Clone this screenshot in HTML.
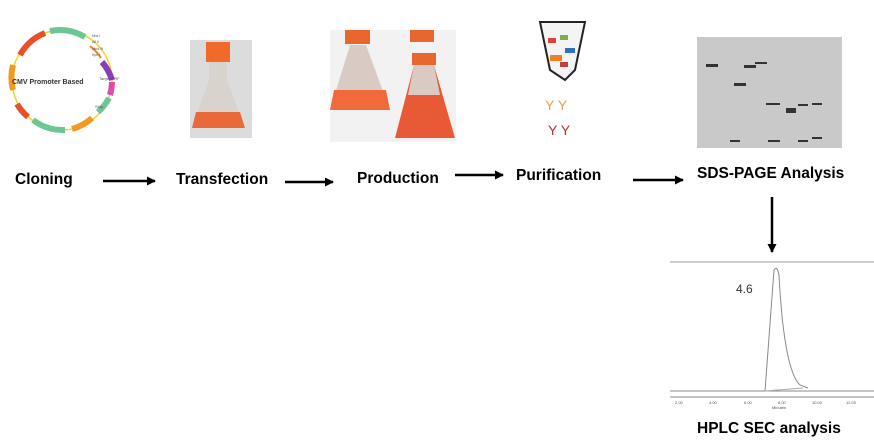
<!DOCTYPE html>
<html><head><meta charset="utf-8"><style>
body{margin:0;width:874px;height:447px;background:#fff;overflow:hidden;position:relative;font-family:"Liberation Sans",sans-serif}
.l{position:absolute;font-weight:bold;font-size:15.5px;color:#000;white-space:nowrap}
svg{position:absolute;left:0;top:0}
</style></head><body>
<svg width="874" height="447">
<defs><marker id="a" markerUnits="userSpaceOnUse" markerWidth="10" markerHeight="10" refX="8" refY="4.5" orient="auto"><path d="M0,0 L9,4.5 L0,9z" fill="#000"/></marker></defs>
<!-- plasmid -->
<circle cx="62" cy="80" r="50" fill="none" stroke="#f2d32a" stroke-width="1.5"/>
<path d="M20,55 A50,50 0 0 1 45,33" stroke="#e8502a" stroke-width="6" fill="none"/>
<path d="M50,31 A50,50 0 0 1 85,37" stroke="#6cc795" stroke-width="6" fill="none"/>
<path d="M90,46 A50,50 0 0 1 101,58" stroke="#f08020" stroke-width="2" fill="none"/>
<path d="M102,62 A50,50 0 0 1 112,80" stroke="#8a3db5" stroke-width="6" fill="none"/>
<path d="M112,82 A50,50 0 0 1 110,95" stroke="#e04aa8" stroke-width="6" fill="none"/>
<path d="M109,98 A50,50 0 0 1 98,112" stroke="#6cc795" stroke-width="6" fill="none"/>
<path d="M92,118 A50,50 0 0 1 72,129" stroke="#f29a20" stroke-width="6" fill="none"/>
<path d="M65,130 A50,50 0 0 1 33,120" stroke="#6cc795" stroke-width="6" fill="none"/>
<path d="M28,117 A50,50 0 0 1 17,104" stroke="#e8502a" stroke-width="6" fill="none"/>
<path d="M13,90 A50,50 0 0 1 13,65" stroke="#f29a20" stroke-width="6" fill="none"/>
<text x="12" y="84" font-size="7" font-weight="bold" fill="#333">CMV Promoter Based</text>
<text x="92" y="37" font-size="3.5" fill="#555">Nhe I</text><text x="92" y="43" font-size="3.5" fill="#555">Afl II</text><text x="92" y="50" font-size="3.5" fill="#555">Hind III</text><text x="92" y="56" font-size="3.5" fill="#555">Kpn I</text>
<text x="99" y="80" font-size="4" fill="#555">Target ORF</text><text x="95" y="108" font-size="4" fill="#555">Stop</text>
<!-- flask 1 -->
<rect x="190" y="40" width="62" height="98" fill="#dcdcdc"/>
<rect x="206" y="42" width="24" height="20" fill="#f26a2a"/>
<path d="M209,62 L227,62 L227,80 L245,128 L192,128 L209,80z" fill="#d8d3cc"/>
<path d="M196,112 L240,112 L245,128 L192,128z" fill="#e86a3a"/>
<!-- production flasks -->
<rect x="330" y="30" width="126" height="112" fill="#f2f2f2"/>
<rect x="345" y="30" width="25" height="14" fill="#e8672e"/>
<rect x="410" y="30" width="24" height="12" fill="#e8672e"/>
<rect x="412" y="53" width="24" height="12" fill="#e8672e"/>
<path d="M350,45 L366,45 L390,110 L330,110z" fill="#d9cbc4"/>
<path d="M334,90 L386,90 L390,110 L330,110z" fill="#f06a3c"/>
<path d="M414,65 L434,65 L455,138 L395,138z" fill="#e85a35"/>
<path d="M414,65 L434,65 L440,95 L408,95z" fill="#d9cbc4"/>
<!-- purification -->
<path d="M540,22 L585,22 L575,70 L565,80 L550,70z" fill="#f4f4f4" stroke="#222" stroke-width="2"/>
<rect x="548" y="38" width="8" height="5" fill="#e04040"/><rect x="560" y="35" width="8" height="5" fill="#80b040"/><rect x="565" y="48" width="10" height="5" fill="#3070c0"/><rect x="550" y="55" width="12" height="6" fill="#f08020"/><rect x="560" y="62" width="8" height="5" fill="#c04040"/>
<text x="545" y="110" font-size="14" fill="#f0a040">Y Y</text>
<text x="548" y="135" font-size="14" fill="#c03030">Y Y</text>
<!-- gel -->
<rect x="697" y="37" width="145" height="111" fill="#c9c9c9"/>
<g fill="#333"><rect x="706" y="64" width="12" height="3"/><rect x="734" y="83" width="12" height="3"/><rect x="744" y="65" width="12" height="3"/><rect x="755" y="62" width="12" height="2"/><rect x="766" y="103" width="14" height="2"/><rect x="786" y="108" width="10" height="5"/><rect x="798" y="104" width="10" height="2"/><rect x="812" y="103" width="10" height="2"/><rect x="768" y="140" width="12" height="2"/><rect x="798" y="140" width="10" height="2"/><rect x="812" y="137" width="10" height="2"/><rect x="730" y="140" width="10" height="2"/></g>
<!-- arrows -->
<g stroke="#000" stroke-width="2.5">
<line x1="103" y1="181" x2="155" y2="181" marker-end="url(#a)"/>
<line x1="285" y1="182" x2="333" y2="182" marker-end="url(#a)"/>
<line x1="455" y1="175" x2="503" y2="175" marker-end="url(#a)"/>
<line x1="633" y1="180" x2="683" y2="180" marker-end="url(#a)"/>
<line x1="772" y1="197" x2="772" y2="252" marker-end="url(#a)"/>
</g>
<!-- chart -->
<line x1="670" y1="262" x2="874" y2="262" stroke="#999"/>
<line x1="670" y1="391" x2="874" y2="391" stroke="#888"/>
<line x1="670" y1="397" x2="874" y2="397" stroke="#888"/>
<path d="M765,391 Q772,300 774,270 Q777,265 779,275 Q784,370 800,385 L808,388" fill="none" stroke="#888"/>
<line x1="765" y1="391" x2="803" y2="388" stroke="#aaa"/>
<text x="736" y="293" font-size="12" fill="#333">4.6</text>
<g font-size="4" fill="#555"><text x="675" y="404">2.00</text><text x="709" y="404">4.00</text><text x="744" y="404">6.00</text><text x="778" y="404">8.00</text><text x="812" y="404">10.00</text><text x="846" y="404">12.00</text><text x="772" y="409">Minutes</text></g>
</svg>
<div class="l" style="left:15px;top:171px">Cloning</div>
<div class="l" style="left:176px;top:171px">Transfection</div>
<div class="l" style="left:357px;top:170px">Production</div>
<div class="l" style="left:516px;top:167px">Purification</div>
<div class="l" style="left:697px;top:165px">SDS-PAGE Analysis</div>
<div class="l" style="left:697px;top:420px">HPLC SEC analysis</div>
</body></html>
